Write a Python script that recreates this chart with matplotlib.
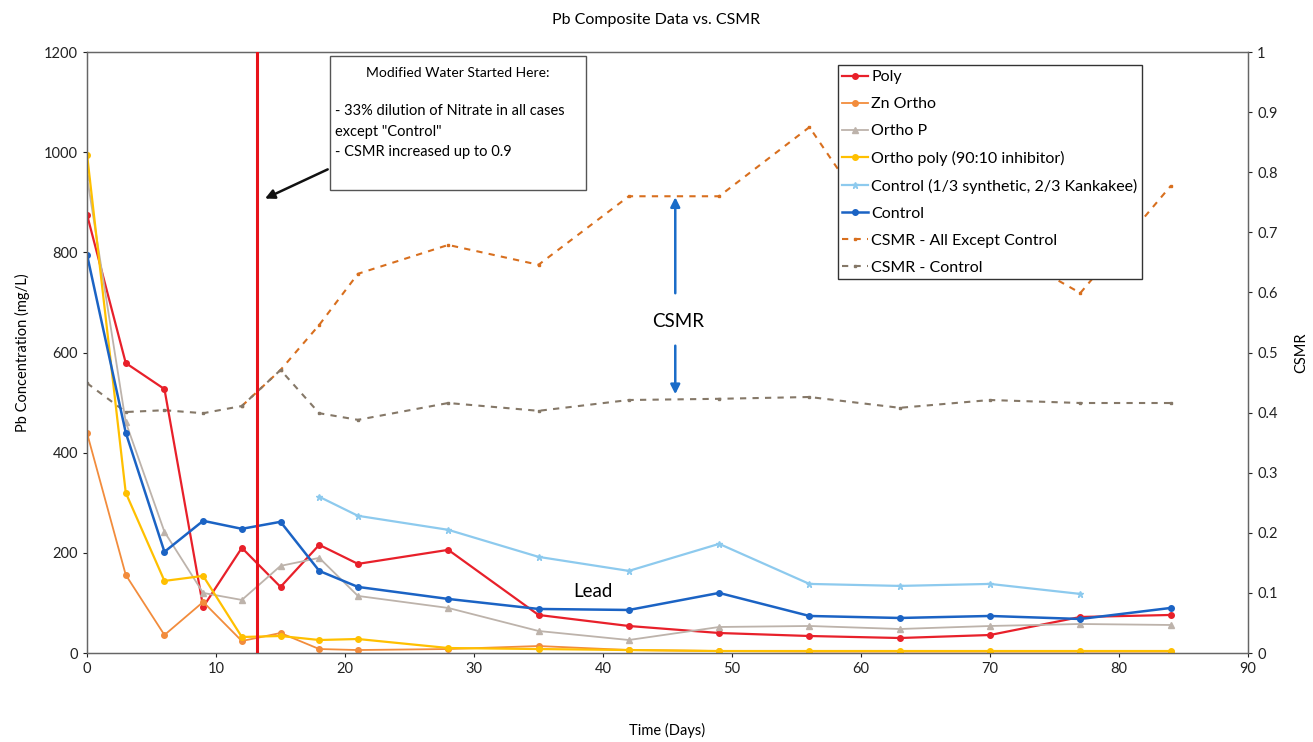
import matplotlib
matplotlib.use("Agg")
import matplotlib.pyplot as plt
import numpy as np
from matplotlib.patches import Rectangle

plt.rcParams['font.family'] = ['Lato', 'DejaVu Sans']

days = [0, 3, 6, 9, 12, 15, 18, 21, 28, 35, 42, 49, 56, 63, 70, 77, 84]
poly = [875, 579, 527, 92, 210, 132, 216, 178, 206, 76, 54, 40, 34, 30, 36, 72, 76]
zn_ortho = [439, 156, 36, 102, 24, 40, 8, 6, 8, 14, 6, 4, 3, 3, 3, 3, 3]
ortho_p = [950, 461, 242, 120, 106, 174, 190, 114, 90, 44, 26, 52, 54, 48, 54, 58, 56]
ortho_poly = [995, 320, 144, 154, 32, 34, 26, 28, 10, 8, 6, 4, 4, 4, 4, 4, 4]
control_days = [18, 21, 28, 35, 42, 49, 56, 63, 70, 77]
control_kank = [312, 274, 246, 192, 164, 218, 138, 134, 138, 118]
control = [795, 440, 202, 264, 248, 262, 164, 132, 108, 88, 86, 120, 74, 70, 74, 68, 90]

csmr_days_all = [12, 15, 18, 21, 28, 35, 42, 49, 56, 63, 70, 77, 84]
csmr_all = [0.411, 0.471, 0.546, 0.631, 0.679, 0.646, 0.760, 0.760, 0.875, 0.654, 0.684, 0.599, 0.777]
csmr_control = [0.449, 0.401, 0.404, 0.399, 0.411, 0.471, 0.399, 0.388, 0.416, 0.403,
                0.421, 0.423, 0.426, 0.408, 0.421, 0.416, 0.416]

fig = plt.figure(figsize=(13.13, 7.42), dpi=100)
ax = fig.add_axes([0.0663, 0.1199, 0.8842, 0.81])
ax2 = ax.twinx()

ms = 4
ax.set_zorder(ax2.get_zorder() + 1)
ax.patch.set_visible(False)

h = []
h += ax.plot(days, poly, color='#E8202A', marker='o', ms=ms, lw=1.6, label='Poly')
h += ax.plot(days, zn_ortho, color='#F28C3C', marker='o', ms=ms, lw=1.3, label='Zn Ortho')
h += ax.plot(days, ortho_p, color='#BDB3AB', marker='^', ms=ms, lw=1.3, label='Ortho P')
h += ax.plot(days, ortho_poly, color='#FFC000', marker='o', ms=ms, lw=1.6, label='Ortho poly (90:10 inhibitor)')
h += ax.plot(control_days, control_kank, color='#8DCAEE', marker='*', ms=ms + 1, lw=1.6,
             label='Control (1/3 synthetic, 2/3 Kankakee)')
h += ax.plot(days, control, color='#1B63C4', marker='o', ms=ms, lw=1.8, label='Control')

h += ax2.plot(csmr_days_all, csmr_all, color='#D86F1E', ls=(0, (3, 3)), marker='s', ms=2, lw=1.5,
              label='CSMR - All Except Control')
h += ax2.plot(days, csmr_control, color='#857868', ls=(0, (3, 3)), marker='s', ms=2, lw=1.5,
              label='CSMR - Control')

ax.set_xlim(0, 90)
ax.set_ylim(0, 1200)
ax2.set_ylim(0, 1)
ax.set_xticks(range(0, 91, 10))
ax.set_yticks(range(0, 1201, 200))
ax2.set_yticks(np.arange(0, 1.01, 0.1))
ax2.set_yticklabels(['0', '0.1', '0.2', '0.3', '0.4', '0.5', '0.6', '0.7', '0.8', '0.9', '1'])

for a in (ax, ax2):
    a.tick_params(labelsize=10.5, length=3, width=0.8, colors='#222222')
    for s in a.spines.values():
        s.set_color('#666666')
        s.set_linewidth(0.9)

ax.set_xlabel('Time (Days)', fontsize=10.5, labelpad=34)
ax.set_ylabel('Pb Concentration (mg/L)', fontsize=10.5, labelpad=10)
ax2.set_ylabel('CSMR', fontsize=10.5, labelpad=12)
fig.suptitle('Pb Composite Data vs. CSMR', fontsize=11.5, y=0.982)

# vertical marker line
ax.axvline(13.2, color='#E8121A', lw=2.2, zorder=5)

# annotation box
ax.add_patch(Rectangle((18.85, 925), 19.8, 268, fill=True, fc='white', ec='#555555', lw=1.0, zorder=4))
ax.text(28.75, 1170, 'Modified Water Started Here:', fontsize=10, ha='center', va='top', zorder=6)
box_text = ('- 33% dilution of Nitrate in all cases\nexcept "Control"\n- CSMR increased up to 0.9')
ax.text(19.2, 1096, box_text, fontsize=10.5, ha='left', va='top', linespacing=1.6, zorder=6)
ax.annotate('', xy=(13.6, 905), xytext=(18.85, 968),
            arrowprops=dict(arrowstyle='-|>', color='#111111', lw=1.8, mutation_scale=14), zorder=6)

# CSMR arrows and labels
ax.annotate('', xy=(45.6, 0.763 * 1200), xytext=(45.6, 0.594 * 1200),
            arrowprops=dict(arrowstyle='-|>', color='#1A6CC8', lw=1.8, mutation_scale=14), zorder=6)
ax.annotate('', xy=(45.6, 0.426 * 1200), xytext=(45.6, 0.516 * 1200),
            arrowprops=dict(arrowstyle='-|>', color='#1A6CC8', lw=1.8, mutation_scale=14), zorder=6)
ax.text(45.8, 0.551 * 1200, 'CSMR', fontsize=13.5, ha='center', va='center', zorder=6)
ax.text(39.2, 123, 'Lead', fontsize=13.5, ha='center', va='center', zorder=6)

leg = ax.legend(handles=h, loc='upper left', bbox_to_anchor=(0.6465, 0.978), fontsize=11.5,
                frameon=True, fancybox=False, edgecolor='#333333', framealpha=1,
                handlelength=1.6, handletextpad=0.2, borderpad=0.3, labelspacing=0.8,
                borderaxespad=0)
leg.get_frame().set_linewidth(1.0)
leg.set_zorder(10)

fig.savefig('out.png', dpi=100)
